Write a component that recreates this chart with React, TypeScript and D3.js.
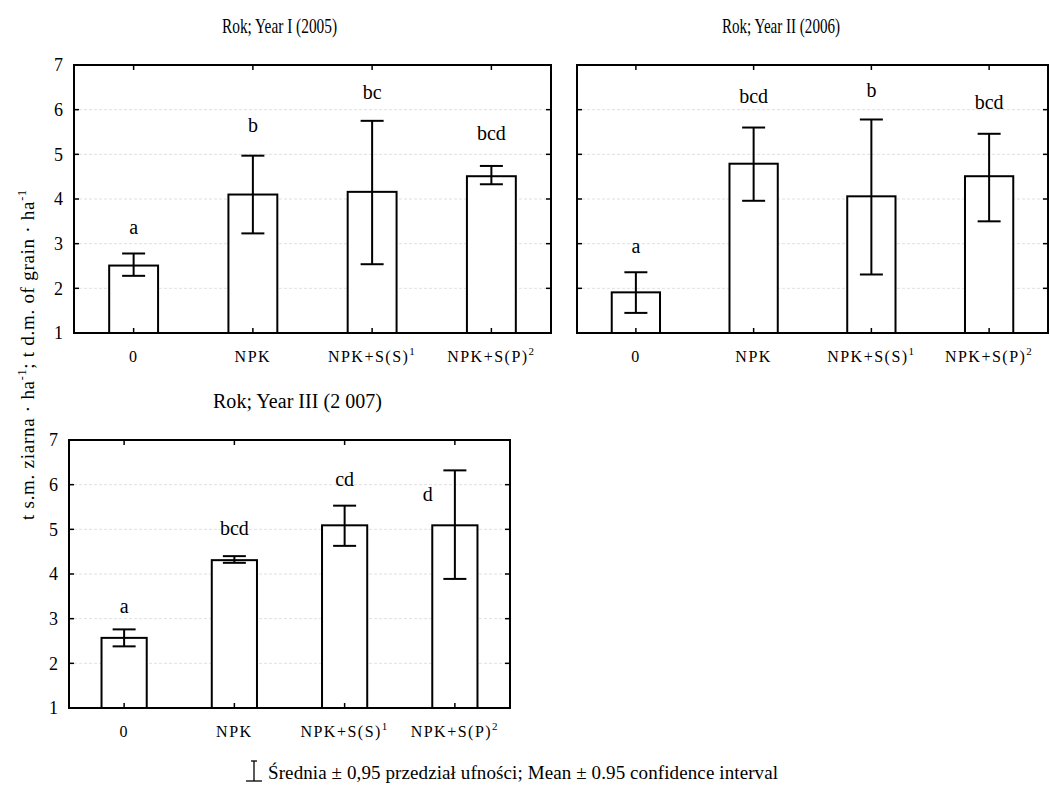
import React from "react";
import * as d3 from "d3";

const categories = ["0", "NPK", "NPK+S(S)", "NPK+S(P)"];
const categorySup = ["", "", "1", "2"];
const yTicks = [1, 2, 3, 4, 5, 6, 7];

const year1Mean = [2.51, 4.1, 4.16, 4.51];
const year1Lo = [2.28, 3.23, 2.54, 4.33];
const year1Hi = [2.78, 4.97, 5.75, 4.74];
const year1Groups = ["a", "b", "bc", "bcd"];
const year1LabelAt = [3.22, 5.51, 6.24, 5.32];

const year2Mean = [1.91, 4.79, 4.06, 4.51];
const year2Lo = [1.45, 3.96, 2.31, 3.5];
const year2Hi = [2.36, 5.6, 5.78, 5.46];
const year2Groups = ["a", "bcd", "b", "bcd"];
const year2LabelAt = [2.8, 6.15, 6.28, 6.01];

const year3Mean = [2.57, 4.31, 5.09, 5.09];
const year3Lo = [2.38, 4.25, 4.63, 3.89];
const year3Hi = [2.76, 4.4, 5.53, 6.32];
const year3Groups = ["a", "bcd", "cd", "d"];
const year3LabelAt = [3.13, 4.87, 5.97, 5.64];

const FONT = "'Liberation Serif', 'Times New Roman', serif";

type PanelProps = {
  x0: number; x1: number; y0: number; y1: number;
  mean: number[]; lo: number[]; hi: number[];
  groups: string[]; labelAt: number[]; showY: boolean;
};

function Panel({ x0, x1, y0, y1, mean, lo, hi, groups, labelAt, showY }: PanelProps) {
  const x = d3.scaleBand<string>().domain(categories).range([x0, x1]).paddingInner(0.59).paddingOuter(0.295);
  const y = d3.scaleLinear().domain([1, 7]).range([y1, y0]);
  const bw = x.bandwidth();
  const cap = 23;
  const tick = 5;
  return (
    <g>
      {yTicks.slice(1, -1).map((t) => (
        <line key={"g" + t} x1={x0} x2={x1} y1={y(t)} y2={y(t)} stroke="#d8d8d8" strokeWidth={0.8} strokeDasharray="3,2" />
      ))}
      {categories.map((c, i) => {
        const cx = (x(c) as number) + bw / 2;
        const hasOverlap = labelAt[i] < hi[i];
        const lx = hasOverlap ? cx - bw * 0.6 : cx;
        return (
          <g key={c}>
            <rect x={x(c)} y={y(mean[i])} width={bw} height={y(1) - y(mean[i])} fill="#fff" stroke="#000" strokeWidth={2} />
            <line x1={cx} x2={cx} y1={y(hi[i])} y2={y(lo[i])} stroke="#000" strokeWidth={2} />
            <line x1={cx - cap / 2} x2={cx + cap / 2} y1={y(hi[i])} y2={y(hi[i])} stroke="#000" strokeWidth={2} />
            <line x1={cx - cap / 2} x2={cx + cap / 2} y1={y(lo[i])} y2={y(lo[i])} stroke="#000" strokeWidth={2} />
            <text x={lx} y={y(labelAt[i])} textAnchor="middle" fontFamily={FONT} fontSize={20}>{groups[i]}</text>
            <line x1={cx} x2={cx} y1={y0} y2={y0 + tick} stroke="#000" strokeWidth={1.5} />
            <line x1={cx} x2={cx} y1={y1} y2={y1 - tick} stroke="#000" strokeWidth={1.5} />
            <text x={cx} y={y1 + 29} textAnchor="middle" fontFamily={FONT} fontSize={16} letterSpacing={1.5}>
              {c}
              {categorySup[i] ? <tspan fontSize={11} dy={-7}>{categorySup[i]}</tspan> : null}
            </text>
          </g>
        );
      })}
      {yTicks.map((t) => (
        <g key={"t" + t}>
          <line x1={x0} x2={x0 + tick} y1={y(t)} y2={y(t)} stroke="#000" strokeWidth={1.5} />
          <line x1={x1} x2={x1 - tick} y1={y(t)} y2={y(t)} stroke="#000" strokeWidth={1.5} />
          {showY ? (
            <text x={x0 - 11} y={y(t)} dy="0.35em" textAnchor="end" fontFamily={FONT} fontSize={18}>{t}</text>
          ) : null}
        </g>
      ))}
      <rect x={x0} y={y0} width={x1 - x0} height={y1 - y0} fill="none" stroke="#000" strokeWidth={2} />
    </g>
  );
}

export default function App() {
  return (
    <svg width={1050} height={787} style={{ position: "absolute", left: 0, top: 0, background: "#fff" }}>
      <rect x={0} y={0} width={1050} height={787} fill="#fff" />
      <text x={222} y={33} fontFamily={FONT} fontSize={21} textLength={115} lengthAdjust="spacingAndGlyphs">Rok; Year I (2005)</text>
      <text x={722} y={33} fontFamily={FONT} fontSize={21} textLength={118} lengthAdjust="spacingAndGlyphs">Rok; Year II (2006)</text>
      <text x={213} y={408} fontFamily={FONT} fontSize={20} textLength={169} lengthAdjust="spacing">Rok; Year III (2 007)</text>

      <Panel x0={74} x1={551} y0={65} y1={333} mean={year1Mean} lo={year1Lo} hi={year1Hi} groups={year1Groups} labelAt={year1LabelAt} showY={true} />
      <Panel x0={577} x1={1048} y0={65} y1={333} mean={year2Mean} lo={year2Lo} hi={year2Hi} groups={year2Groups} labelAt={year2LabelAt} showY={false} />
      <Panel x0={69} x1={510} y0={440} y1={708} mean={year3Mean} lo={year3Lo} hi={year3Hi} groups={year3Groups} labelAt={year3LabelAt} showY={true} />

      <text transform="translate(34,355) rotate(-90)" textAnchor="middle" fontFamily={FONT} fontSize={19} textLength={330} lengthAdjust="spacing">
        t s.m. ziarna · ha<tspan fontSize={12} dy={-8}>-1</tspan><tspan dy={8}>; t d.m. of grain · ha</tspan><tspan fontSize={12} dy={-8}>-1</tspan>
      </text>

      <line x1={254} x2={254} y1={761} y2={781} stroke="#000" strokeWidth={1.3} />
      <line x1={246} x2={262} y1={781} y2={781} stroke="#000" strokeWidth={1.3} />
      <line x1={251} x2={257} y1={761} y2={761} stroke="#000" strokeWidth={1.3} />
      <text x={268} y={779} fontFamily={FONT} fontSize={19} textLength={510} lengthAdjust="spacing">Średnia ± 0,95 przedział ufności; Mean ± 0.95 confidence interval</text>
    </svg>
  );
}
